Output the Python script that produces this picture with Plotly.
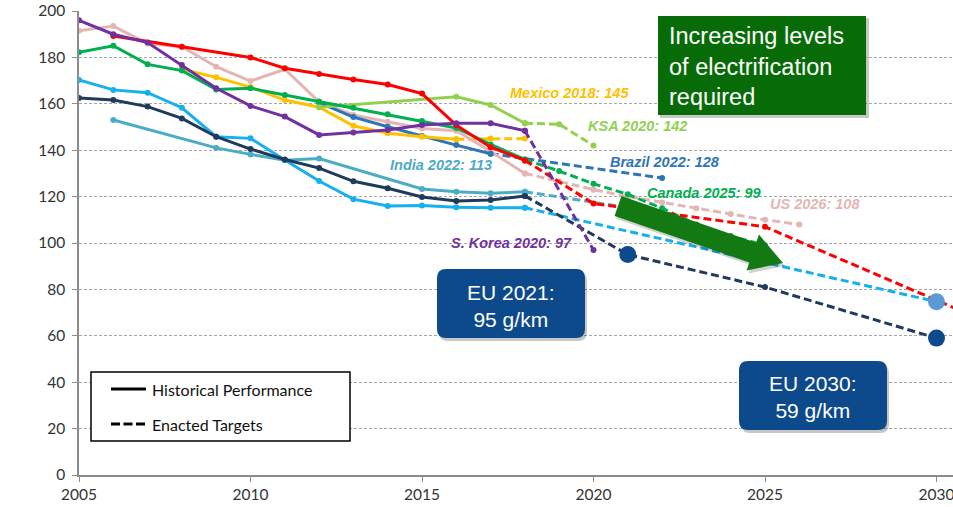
import plotly.graph_objects as go

# ---------------------------------------------------------------------------
# Fleet-average CO2 (g/km, NEDC-normalised): historical values and targets
# ---------------------------------------------------------------------------
eu_years = list(range(2005, 2019))
eu_hist = [162.5, 161.6, 158.8, 153.7, 145.8, 140.5, 136.0, 132.3, 126.6, 123.6, 119.8, 118.1, 118.5, 120.3]
eu_target_years = [2018, 2021, 2025, 2030]
eu_target = [120.3, 95, 81, 59]

japan_years = list(range(2005, 2019))
japan_hist = [170.3, 166.0, 164.8, 158.3, 145.8, 145.1, 135.8, 126.7, 118.9, 116.0, 116.2, 115.4, 115.2, 115.2]
japan_target_years = [2018, 2030]
japan_target = [115.2, 74.7]

china_years = [2006, 2008, 2010, 2011, 2012, 2013, 2014, 2015, 2016, 2017, 2018]
china_hist = [189.2, 184.6, 180.0, 175.3, 172.8, 170.5, 168.3, 164.4, 150.8, 141.3, 135.6]
china_target_years = [2018, 2020, 2025, 2030, 2031]
china_target = [135.6, 117, 107, 75, 69]

canada_years = list(range(2005, 2019))
canada_hist = [182.2, 185.0, 177.0, 174.3, 166.2, 166.7, 163.8, 161.0, 158.3, 155.5, 152.6, 149.6, 142.5, 136.0]
canada_target_years = [2018, 2019, 2020, 2021, 2022, 2023, 2024, 2025]
canada_target = [136.0, 131, 125.5, 121, 115, 108, 103, 99]

ksa_years = [2012, 2016, 2017, 2018]
ksa_hist = [158.5, 163.0, 159.5, 151.6]
ksa_target_years = [2018, 2019, 2020]
ksa_target = [151.6, 151.2, 142]

mexico_years = list(range(2008, 2017))
mexico_hist = [174.9, 171.4, 167.2, 161.6, 158.5, 150.5, 147.3, 145.8, 144.7]
mexico_target_years = [2016, 2017, 2018]
mexico_target = [144.7, 145, 145]

korea_years = list(range(2005, 2019))
korea_hist = [196.0, 190.0, 186.4, 176.7, 166.7, 159.1, 154.5, 146.6, 147.6, 148.7, 150.9, 151.6, 151.6, 148.4]
korea_target_years = [2018, 2020]
korea_target = [148.4, 97]

india_years = [2006, 2009, 2010, 2011, 2012, 2015, 2016, 2017, 2018]
india_hist = [153.0, 141.0, 138.2, 135.7, 136.4, 123.3, 122.1, 121.4, 122.1]
india_target_years = [2018, 2022]
india_target = [122.1, 113]

brazil_years = [2012, 2013, 2014, 2015, 2016, 2017]
brazil_hist = [160.5, 154.3, 150.1, 146.1, 142.2, 138.5]
brazil_target_years = [2017, 2022]
brazil_target = [138.5, 128]

us_years = list(range(2005, 2019))
us_hist = [191.5, 193.5, 186.0, 184.6, 176.0, 169.8, 174.9, 160.8, 155.2, 152.3, 149.4, 148.4, 139.4, 130.0]
us_target_years = [2018, 2019, 2020, 2021, 2022, 2023, 2024, 2025, 2026]
us_target = [130.0, 126.5, 123, 120, 117.5, 115, 112.5, 110, 108]

# drawing order (back to front) and colours
series = [
    ("US", us_years, us_hist, us_target_years, us_target, "#e3b6b4"),
    ("India", india_years, india_hist, india_target_years, india_target, "#4bacc6"),
    ("Brazil", brazil_years, brazil_hist, brazil_target_years, brazil_target, "#2e75b6"),
    ("Mexico", mexico_years, mexico_hist, mexico_target_years, mexico_target, "#ffc000"),
    ("KSA", ksa_years, ksa_hist, ksa_target_years, ksa_target, "#92d050"),
    ("Canada", canada_years, canada_hist, canada_target_years, canada_target, "#00b050"),
    ("Japan", japan_years, japan_hist, japan_target_years, japan_target, "#16b0ee"),
    ("EU", eu_years, eu_hist, eu_target_years, eu_target, "#203a5c"),
    ("China", china_years, china_hist, china_target_years, china_target, "#ff0000"),
    ("S. Korea", korea_years, korea_hist, korea_target_years, korea_target, "#7030a0"),
]

y_ticks = [0, 20, 40, 60, 80, 100, 120, 140, 160, 180, 200]
x_ticks = [2005, 2010, 2015, 2020, 2025, 2030]

# ---------------------------------------------------------------------------
# Page geometry: plot area in pixels and helpers to place decorations
# ---------------------------------------------------------------------------
W, H = 953, 507
L, R, T, B = 79, 953, 11, 475
X0 = 2005
PX_PER_YEAR = 34.3
XMAX = X0 + (R - L) / PX_PER_YEAR
YMIN, YMAX = 0, 200


def px2x(px):
    return X0 + (px - L) / PX_PER_YEAR


def px2y(py):
    return YMAX - (py - T) / (B - T) * (YMAX - YMIN)


def path_from_px(cmds):
    out = []
    for c in cmds:
        if isinstance(c, str):
            out.append(c)
        else:
            out.append(f"{px2x(c[0]):.5f},{px2y(c[1]):.5f}")
    return " ".join(out)


def rounded_box(x0, y0, x1, y1, r):
    return path_from_px([
        "M", (x0 + r, y0), "L", (x1 - r, y0), "Q", (x1, y0), (x1, y0 + r),
        "L", (x1, y1 - r), "Q", (x1, y1), (x1 - r, y1),
        "L", (x0 + r, y1), "Q", (x0, y1), (x0, y1 - r),
        "L", (x0, y0 + r), "Q", (x0, y0), (x0 + r, y0), "Z",
    ])


def rect_box(x0, y0, x1, y1):
    return path_from_px(["M", (x0, y0), "L", (x1, y0), "L", (x1, y1), "L", (x0, y1), "Z"])


fig = go.Figure()

DASH = "8px,4px"
for name, yrs, hist, tyrs, tgt, col in series:
    fig.add_trace(go.Scatter(
        x=tyrs, y=tgt, mode="lines+markers", name=name + " target",
        line=dict(color=col, width=3, dash=DASH),
        marker=dict(color=col, size=6), showlegend=False, hoverinfo="skip"))
for name, yrs, hist, tyrs, tgt, col in series:
    fig.add_trace(go.Scatter(
        x=yrs, y=hist, mode="lines+markers", name=name,
        line=dict(color=col, width=3), marker=dict(color=col, size=6),
        showlegend=False, hoverinfo="skip"))

# highlighted target points
fig.add_trace(go.Scatter(
    x=[japan_target_years[-1]], y=[japan_target[-1]], mode="markers",
    marker=dict(color="#5b9bd5", size=17), showlegend=False, hoverinfo="skip"))
fig.add_trace(go.Scatter(
    x=[eu_target_years[1], eu_target_years[-1]], y=[eu_target[1], eu_target[-1]],
    mode="markers", marker=dict(color="#0d4a8c", size=17),
    showlegend=False, hoverinfo="skip"))

shapes = []

# green "electrification" arrow
tx, ty = 618.0, 206.0
hx, hy = 783.0, 263.0
dx, dy = hx - tx, hy - ty
ln = (dx * dx + dy * dy) ** 0.5
ux, uy = dx / ln, dy / ln
nx, ny = -uy, ux
bw, hw, hl = 10.5, 19.0, 32.0
bx, by = hx - hl * ux, hy - hl * uy
arrow_pts = [
    (tx + bw * nx, ty + bw * ny), (tx - bw * nx, ty - bw * ny),
    (bx - bw * nx, by - bw * ny), (bx - hw * nx, by - hw * ny),
    (hx, hy),
    (bx + hw * nx, by + hw * ny), (bx + bw * nx, by + bw * ny),
]
cmds = ["M", arrow_pts[0]]
for p in arrow_pts[1:]:
    cmds += ["L", p]
cmds.append("Z")
shapes.append(dict(type="path", xref="x", yref="y", path=path_from_px(
    ["M", (arrow_pts[0][0] + 2, arrow_pts[0][1] + 3)] +
    sum([["L", (p[0] + 2, p[1] + 3)] for p in arrow_pts[1:]], []) + ["Z"]),
    fillcolor="rgba(0,0,0,0.18)", line=dict(width=0), layer="above"))
shapes.append(dict(type="path", xref="x", yref="y", path=path_from_px(cmds),
                   fillcolor="#137a13", line=dict(width=0), layer="above"))

# electrification call-out box
shapes.append(dict(type="path", xref="x", yref="y", path=rect_box(660, 18, 869, 118),
                   fillcolor="rgba(0,0,0,0.22)", line=dict(width=0), layer="above"))
shapes.append(dict(type="path", xref="x", yref="y", path=rect_box(658, 16, 866, 115),
                   fillcolor="#076c07", line=dict(width=0), layer="above"))

# EU call-out boxes
for (x0, y0, x1, y1) in [(437, 269, 585, 338), (739, 361, 887, 430)]:
    shapes.append(dict(type="path", xref="x", yref="y",
                       path=rounded_box(x0 + 2, y0 + 3, x1 + 2, y1 + 3, 9),
                       fillcolor="rgba(0,0,0,0.22)", line=dict(width=0), layer="above"))
    shapes.append(dict(type="path", xref="x", yref="y", path=rounded_box(x0, y0, x1, y1, 9),
                       fillcolor="#0d4a8c", line=dict(width=0), layer="above"))

# line-style key
shapes.append(dict(type="path", xref="x", yref="y", path=rect_box(91, 372, 350, 441),
                   fillcolor="white", line=dict(color="black", width=1.5), layer="above"))
shapes.append(dict(type="line", xref="x", yref="y", x0=px2x(111), x1=px2x(146),
                   y0=px2y(389), y1=px2y(389), line=dict(color="black", width=3), layer="above"))
shapes.append(dict(type="line", xref="x", yref="y", x0=px2x(111), x1=px2x(146),
                   y0=px2y(424), y1=px2y(424),
                   line=dict(color="black", width=3, dash="9px,3.5px"), layer="above"))

ann = []
LAB = "Liberation Sans, Arial, sans-serif"


def label(text, cx, cy, color, size=14.5):
    ann.append(dict(text=f"<b><i>{text}</i></b>", x=px2x(cx), y=px2y(cy), xref="x", yref="y",
                    showarrow=False, xanchor="center", yanchor="middle",
                    font=dict(family=LAB, size=size, color=color)))


label("Mexico 2018: 145", 569, 93, "#ffc000")
label("KSA 2020: 142", 637, 126, "#92d050")
label("Brazil 2022: 128", 665, 162, "#2e75b6")
label("India 2022: 113", 441, 165, "#4bacc6")
label("Canada 2025: 99", 704, 193, "#00b050")
label("US 2026: 108", 815, 204, "#e3b6b4")
label("S. Korea 2020: 97", 511, 243, "#7030a0")

ann.append(dict(text="Increasing levels<br>of electrification<br>required",
                x=px2x(667), y=px2y(66), xref="x", yref="y", showarrow=False,
                xanchor="left", yanchor="middle", align="left",
                font=dict(family=LAB, size=23.5, color="white")))
ann.append(dict(text="EU 2021:<br>95 g/km", x=px2x(511), y=px2y(306), xref="x", yref="y",
                showarrow=False, xanchor="center", yanchor="middle", align="center",
                font=dict(family=LAB, size=21, color="white")))
ann.append(dict(text="EU 2030:<br>59 g/km", x=px2x(813), y=px2y(397), xref="x", yref="y",
                showarrow=False, xanchor="center", yanchor="middle", align="center",
                font=dict(family=LAB, size=21, color="white")))

KEY = "Lato, Carlito, sans-serif"
ann.append(dict(text="Historical Performance", x=px2x(150), y=px2y(389), xref="x", yref="y",
                showarrow=False, xanchor="left", yanchor="middle",
                font=dict(family=KEY, size=16, color="#111111")))
ann.append(dict(text="Enacted Targets", x=px2x(150), y=px2y(424), xref="x", yref="y",
                showarrow=False, xanchor="left", yanchor="middle",
                font=dict(family=KEY, size=16, color="#111111")))

ann.append(dict(text="<b>Year</b>", x=px2x(685), y=px2y(494), xref="x", yref="y",
                showarrow=False, xanchor="center", yanchor="middle",
                font=dict(family=KEY, size=16.5, color="#111111")))
ann.append(dict(text="<b>CO<sub>2</sub> (g/km), normalized to NEDC</b>", x=px2x(18), y=px2y(262),
                xref="x", yref="y", showarrow=False, textangle=-90,
                xanchor="center", yanchor="middle",
                font=dict(family=KEY, size=14.5, color="#111111")))

fig.update_layout(
    width=W, height=H,
    margin=dict(l=L, r=W - R, t=T, b=H - B, pad=0),
    paper_bgcolor="white", plot_bgcolor="white",
    shapes=shapes, annotations=ann,
    xaxis=dict(range=[X0, XMAX], tickvals=x_ticks, ticktext=[str(v) for v in x_ticks],
               showgrid=False, zeroline=False, showline=True, linecolor="#8c8c8c", linewidth=1.5,
               ticks="outside", ticklen=5, tickcolor="#8c8c8c", ticklabeloverflow="allow",
               tickfont=dict(family=KEY, size=15.5, color="#333333"), fixedrange=True),
    yaxis=dict(range=[YMIN, YMAX], tickvals=y_ticks, ticktext=[str(v) for v in y_ticks],
               showgrid=True, gridcolor="#a6a6a6", gridwidth=1, griddash="3px,2px",
               zeroline=False, showline=True, linecolor="#8c8c8c", linewidth=1.5,
               ticks="outside", ticklen=5, tickcolor="#8c8c8c", ticklabelstandoff=4,
               tickfont=dict(family=KEY, size=15.5, color="#333333"), fixedrange=True),
    showlegend=False,
)

fig.write_html("out.html")
